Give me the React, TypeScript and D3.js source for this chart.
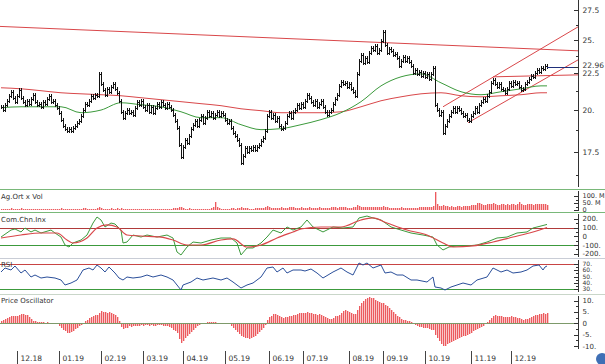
import { useEffect, useRef } from "react";
import * as d3 from "d3";

// daily closes (log price panel)
const closes = [
  20.2, 20.0, 20.3, 20.6, 20.9, 21.2, 20.8, 20.5, 20.9, 21.3,
  20.8, 20.5, 20.3, 20.6, 20.4, 20.7, 21.0, 20.5, 20.3, 20.4,
  20.2, 20.5, 20.4, 20.7, 20.9, 20.5, 20.6, 20.3, 20.1, 19.8,
  19.4, 19.0, 18.8, 18.7, 18.8, 18.7, 18.9, 19.0, 19.2, 19.3,
  19.6, 20.0, 20.4, 20.3, 20.6, 20.9, 20.8, 21.0, 20.9, 22.4,
  21.7, 21.3, 21.0, 21.4, 21.2, 21.5, 21.7, 21.4, 21.1, 20.6,
  19.9, 19.5, 19.8, 20.0, 19.8, 19.9, 19.7, 20.1, 20.5, 20.3,
  20.6, 20.2, 20.0, 20.3, 19.9, 20.2, 19.8, 20.1, 20.4, 20.2,
  20.5, 20.3, 20.1, 20.4, 20.2, 20.0, 19.7, 19.3, 18.9, 17.9,
  17.2, 17.8, 18.2, 18.0, 18.4, 18.8, 19.1, 19.3, 19.0, 19.4,
  19.6, 19.2, 19.5, 19.9, 19.6, 19.8, 19.5, 19.7, 19.9, 19.6,
  19.8, 19.7, 19.4, 19.2, 19.3, 18.9, 18.6, 18.4, 18.2, 17.9,
  16.9, 17.3, 17.7, 17.5, 17.7, 17.6, 17.8, 17.6, 17.8, 17.9,
  18.1, 18.3, 18.7, 19.6, 19.9, 19.5, 19.7, 19.3, 19.5, 19.0,
  18.8, 18.9, 19.2, 19.6, 19.8, 19.5, 19.9, 20.0, 20.3, 20.1,
  20.4, 20.2, 20.6, 21.0, 20.8, 20.5, 20.3, 20.6, 20.2, 20.4,
  20.6, 20.2, 19.9, 19.7, 19.9, 20.0, 20.4, 20.7, 21.0, 21.6,
  21.9, 21.7, 21.8, 21.5, 21.7, 21.4, 21.2, 20.9, 22.4, 23.4,
  23.8, 23.2, 23.6, 23.3, 24.0, 24.4, 24.2, 24.5, 24.0, 24.2,
  24.9, 25.6, 24.6, 24.0, 24.3, 24.1, 23.8, 23.9, 23.6, 23.0,
  23.4, 23.7, 23.4, 23.6, 23.3, 23.0, 22.5, 22.7, 22.4, 22.6,
  22.3, 22.5, 22.2, 22.4, 22.1, 22.4, 22.9, 20.3, 20.0, 19.7,
  19.9, 18.6, 19.0, 19.3, 19.6, 19.9, 20.1, 19.9, 20.1, 20.0,
  19.8, 19.6, 19.7, 19.4, 19.3, 19.6, 19.8, 20.1, 19.9, 20.3,
  20.5, 20.7, 20.6, 20.9, 21.2, 21.8, 22.0, 21.7, 21.5, 21.7,
  21.4, 21.3, 21.1, 21.4, 21.8, 21.6, 21.9, 21.7, 21.8, 21.5,
  21.3, 21.4, 21.7, 21.9, 22.1, 22.3, 22.2, 22.5, 22.7, 22.6,
  22.9, 22.8, 23.0, 22.96,
];

// moving averages, sampled every 10 sessions
const maDays = [0, 10, 20, 30, 40, 50, 60, 70, 80, 90, 100, 110, 120, 130, 140, 150, 160, 170, 180, 190, 200, 210, 220, 230, 240, 250, 260, 270, 273];
const maFast = [20.15, 20.21, 20.21, 20.21, 19.83, 20.0, 20.47, 20.34, 20.21, 19.89, 19.52, 19.52, 19.09, 18.79, 18.85, 19.09, 19.4, 19.83, 20.54, 21.6, 22.23, 22.44, 21.81, 21.2, 21.0, 21.2, 21.4, 21.6, 21.6];
const maSlow = [21.47, 21.4, 21.27, 21.13, 21.06, 21.0, 20.93, 20.8, 20.67, 20.54, 20.41, 20.28, 20.08, 19.96, 19.83, 19.83, 19.83, 19.89, 20.21, 20.6, 20.86, 21.06, 21.13, 20.93, 20.86, 20.93, 21.0, 21.13, 21.13];

// trend lines: [session, price] start / end
const trendFrom = [[-0.5, 26.1], [221, 20.21], [233.5, 19.21], [246, 22.23]];
const trendTo = [[288.5, 24.15], [288.5, 26.06], [288.5, 23.46], [288.5, 22.37]];

// volume, millions
const volume = [
  8, 6, 9, 7, 10, 12, 8, 6, 7, 9, 11, 8, 7, 6, 9, 8, 10, 7, 6, 8, 9, 7, 8, 6, 10, 9, 7, 8, 6, 9,
  12, 10, 8, 9, 7, 8, 9, 10, 8, 7, 9, 11, 12, 10, 9, 8, 10, 9, 13, 18, 14, 10, 9, 8, 9, 11, 10, 9, 12, 10,
  14, 10, 9, 8, 7, 8, 9, 7, 8, 10, 9, 8, 7, 9, 8, 7, 6, 8, 9, 8, 7, 9, 8, 7, 9, 10, 12, 14, 16, 22,
  18, 12, 10, 9, 11, 10, 9, 8, 10, 9, 8, 10, 9, 8, 9, 12, 18, 58, 20, 12, 10, 9, 8, 9, 10, 11, 12, 10, 13, 16,
  18, 14, 12, 11, 10, 9, 10, 11, 12, 13, 14, 16, 18, 26, 20, 16, 14, 13, 12, 15, 18, 14, 12, 16, 20, 22, 18, 15, 14, 16,
  18, 15, 14, 16, 19, 17, 15, 14, 16, 18, 15, 14, 13, 15, 17, 19, 21, 18, 16, 19, 23, 20, 18, 17, 16, 15, 18, 20, 34, 28,
  24, 22, 20, 18, 21, 23, 19, 18, 20, 22, 24, 26, 20, 18, 16, 15, 17, 14, 13, 16, 18, 15, 14, 13, 15, 17, 16, 14, 15, 18,
  20, 22, 19, 21, 24, 22, 28, 130, 45, 32, 28, 36, 30, 26, 24, 28, 22, 25, 30, 27, 24, 32, 28, 26, 30, 34, 38, 36, 48, 52,
  44, 38, 34, 40, 42, 46, 50, 44, 38, 36, 40, 44, 38, 42, 36, 40, 44, 38, 46, 60, 42, 38, 36, 40, 44, 42, 38, 40, 46, 44,
  42, 40, 44, 38,
];

// commodity channel index + its average
const cciDays = [0, 5, 7, 10, 12, 15, 17, 20, 25, 27, 30, 32, 34, 36, 40, 43, 46, 48, 50, 52, 55, 57, 60, 61, 63, 66, 70, 73, 78, 83, 86, 88, 90, 93, 96, 100, 105, 110, 115, 118, 120, 123, 126, 130, 133, 136, 140, 143, 146, 150, 153, 156, 161, 166, 171, 176, 179, 183, 186, 190, 195, 200, 205, 211, 216, 218, 221, 224, 228, 233, 238, 243, 248, 253, 258, 263, 266, 270, 273];
const cciVals = [-9, 71, 83, 49, 94, 49, 71, 37, 71, 37, -9, -100, -123, -77, -43, 14, 151, 220, 186, 106, 151, 140, 71, -77, -66, 14, -9, 14, -9, 14, -20, -180, -214, -123, -66, -77, -43, -20, -20, -77, -214, -134, -134, -77, -9, 71, 37, 106, 71, 106, 186, 106, 49, 106, 94, 106, 209, 231, 209, 186, 106, 71, 37, 14, -9, -100, -157, -123, -111, -111, -100, -66, -20, -9, 37, 49, 94, 117, 135];
const cciAvgDays = [0, 10, 20, 28, 33, 36, 43, 48, 53, 58, 63, 70, 80, 86, 93, 100, 110, 116, 123, 130, 138, 146, 150, 160, 170, 180, 186, 193, 203, 213, 221, 226, 236, 246, 256, 266, 273];
const cciAvgVals = [-20, 14, 37, 37, -43, -77, -20, 94, 129, 106, 14, 3, -9, -43, -100, -100, -43, -31, -123, -100, -20, 49, 83, 106, 106, 186, 209, 151, 71, 14, -77, -123, -111, -66, -9, 49, 100];

// RSI
const rsiDays = [0, 2, 5, 7, 10, 12, 15, 17, 20, 23, 27, 30, 32, 35, 38, 41, 44, 46, 48, 50, 52, 54, 57, 59, 61, 63, 66, 70, 73, 76, 80, 83, 86, 88, 90, 91, 95, 98, 101, 106, 110, 113, 116, 120, 123, 126, 130, 133, 136, 138, 141, 143, 146, 150, 152, 155, 158, 161, 166, 170, 173, 176, 179, 181, 183, 186, 190, 192, 195, 198, 201, 205, 208, 213, 216, 217, 220, 222, 225, 228, 231, 235, 238, 243, 246, 250, 253, 256, 260, 263, 266, 269, 271, 272, 273];
const rsiVals = [57.2, 63.6, 60.4, 66.8, 55.6, 60.4, 49.2, 52.4, 47.6, 49.2, 47.6, 44.4, 36.4, 39.6, 44.4, 60.4, 63.6, 60.4, 68.4, 63.6, 57.2, 65.2, 55.6, 47.6, 44.4, 49.2, 47.6, 49.2, 52.4, 49.2, 52.4, 49.2, 44.4, 36.4, 28.4, 36.4, 41.2, 47.6, 44.4, 47.6, 44.4, 47.6, 41.2, 31.6, 36.4, 39.6, 49.2, 63.6, 65.2, 57.2, 63.6, 55.6, 60.4, 60.4, 58.8, 62, 55.6, 47.6, 57.2, 63.6, 57.2, 52.4, 71.6, 68.4, 71.6, 63.6, 68.4, 55.6, 57.2, 52.4, 52.4, 44.4, 44.4, 41.2, 49.2, 33.2, 31.6, 28.4, 33.2, 36.4, 39.6, 36.4, 44.4, 49.2, 63.6, 57.2, 60.4, 55.6, 57.2, 60.4, 66.8, 68.4, 60.4, 65.2, 66.8];

// price oscillator, percent
const oscillator = [
  1.0, 1.3, 1.8, 2.3, 2.8, 3.0, 3.2, 3.4, 3.3, 3.6, 4.0, 4.1, 3.8, 3.5, 2.6, 1.8, 1.2,
  0.8, 0.6, 0.5, 0.4, 0.5, 0.3, 0.4, 0.3, 0.2, 0.1, 0.0, -0.3,
  -1.2, -2.0, -2.8, -3.5, -4.2, -4.4, -4.0, -3.3, -2.6, -2.0, -1.4, -0.8, -0.2,
  0.8, 1.5, 2.3, 2.9, 3.2, 3.5, 3.6, 4.4, 5.3, 5.1, 4.9, 4.6, 4.8, 4.3, 4.0, 3.5, 2.8, 1.2,
  -1.5, -2.4, -2.2, -1.9, -1.3, -1.5, -1.2, -1.0, -1.4, -1.1, -0.9,
  -1.0, -0.7, -0.9, -1.2, -0.8, -1.0, -1.3, -0.9, -0.6, -0.8, -1.0, -1.2,
  -1.4, -1.8, -2.2, -2.8, -3.3, -4.5, -7.0, -8.8, -7.9, -6.5, -5.5, -4.6, -3.8, -3.0, -2.2,
  -1.4, -0.8, -0.4, -0.2, 0.2, 0.5, 0.6, 0.4, 0.7, 0.5, 0.2, 0.1, -0.1, 0.2, 0.0, -0.2, -0.5,
  -1.3, -2.2, -3.0, -3.8, -4.6, -5.5, -6.0, -6.3, -6.6, -6.8, -6.5, -6.0, -5.4, -4.7, -3.9, -3.0, -2.0, -0.8,
  1.5, 2.6, 3.4, 3.9, 4.2, 3.8, 3.3, 2.9, 2.4, 2.6, 2.9, 3.1, 3.4, 3.5, 3.8, 4.1, 4.3,
  4.5, 4.4, 4.6, 4.8, 4.5, 4.3, 4.2, 4.0, 3.8, 3.9, 3.6, 3.4, 2.8, 2.2, 1.8, 1.9, 2.4, 3.0, 3.3, 3.6,
  4.6, 5.3, 5.7, 5.5, 5.0, 4.4, 4.0, 3.9, 6.0, 7.8, 8.8, 9.6, 10.8, 11.3, 11.5, 11.2, 11.0,
  10.3, 10.0, 9.5, 9.0, 8.8, 8.0, 7.4, 6.8, 6.0, 5.0, 4.2, 3.4, 2.6, 2.0, 1.6, 1.4, 1.2, 0.9, 0.5,
  -0.3, -0.8, -1.2, -1.5, -1.7, -1.9, -2.0, -2.3, -2.6, -2.8, -3.0,
  -5.0, -6.5, -8.0, -9.3, -10.2, -9.8, -9.2, -8.6, -8.1, -7.6, -7.3, -7.0, -6.6,
  -6.2, -5.8, -5.4, -5.0, -4.6, -4.1, -3.6, -3.0, -2.5, -2.0, -1.5, -1.0, -0.4,
  0.6, 1.5, 2.5, 3.4, 3.5, 3.3, 3.2, 3.0, 2.8, 2.6, 2.7, 2.9, 3.0, 2.8, 2.6, 2.5, 2.2,
  1.8, 1.6, 1.7, 2.0, 2.4, 2.9, 3.2, 3.5, 3.8, 3.9, 4.1, 4.3, 4.2, 4.4,
];

const monthDays = [8, 29, 50, 71, 91, 112, 134, 151, 174, 191, 212, 235, 255];
const monthLabels = ["12.18", "01.19", "02.19", "03.19", "04.19", "05.19", "06.19", "07.19", "08.19", "09.19", "10.19", "11.19", "12.19"];

const priceTicks = [17.5, 20, 22.5, 25, 27.5];
const priceMinor = [16.25, 18.75, 21.25, 23.75, 26.25];
const volTicks = [0, 50, 100];
const volMinor = [25, 75];
const cciTicks = [-200, -100, 0, 100, 200];
const cciMinor = [-150, -50, 50, 150];
const rsiTicks = [30, 40, 50, 60, 70];
const rsiMinor = [35, 45, 55, 65];
const oscTicks = [-10, -5, 0, 5, 10];
const oscMinor = [-7.5, -2.5, 2.5, 7.5];

const W = 605;
const H = 364;
const AX = 578.5;
const FONT = "DejaVu Sans, Verdana, sans-serif";
const RED = "#d9474a";
const GREEN = "#3c9a3c";
const BAR_RED = "#ec5a5e";
const BAR_PINK = "#f9c6c7";

const fmt = (v: number) => (v === 0 ? "0" : Number.isInteger(v) ? `${v}.` : `${v}`);

const drawChart = (el: SVGSVGElement) => {
  const svg = d3.select(el);
  svg.selectAll("*").remove();
  const n = closes.length;

  const x = d3.scaleLinear().domain([0, n - 1]).range([1, 547]);
  const yP = d3.scaleLog().domain([17.5, 27.5]).range([152, 10]);
  const yV = d3.scaleLinear().domain([0, 100]).range([210, 196]);
  const yC = d3.scaleLinear().domain([-200, 200]).range([253.75, 218.75]);
  const yR = d3.scaleLinear().domain([30, 70]).range([289, 264]);
  const yO = d3.scaleLinear().domain([-10, 10]).range([346, 300.5]);

  svg.append("rect").attr("width", W).attr("height", H).attr("fill", "white");

  const defs = svg.append("defs");
  const clip = (id: string, y0: number, y1: number) =>
    defs.append("clipPath").attr("id", id).append("rect")
      .attr("x", 0).attr("y", y0).attr("width", AX).attr("height", y1 - y0);
  clip("c-main", 0, 187);
  clip("c-cci", 213, 258);
  clip("c-rsi", 259, 293);
  clip("c-osc", 295, 349);

  // ---- main price panel
  const main = svg.append("g").attr("clip-path", "url(#c-main)");

  trendFrom.forEach((f, k) => {
    const t = trendTo[k];
    main.append("line")
      .attr("x1", x(f[0])).attr("y1", yP(f[1]))
      .attr("x2", x(t[0])).attr("y2", yP(t[1]))
      .attr("stroke", RED).attr("stroke-width", 1);
  });

  const maLine = (vals: number[]) =>
    d3.line<number>().x((_, i) => x(maDays[i])).y((d) => yP(d)).curve(d3.curveMonotoneX)(vals);
  main.append("path").attr("d", maLine(maSlow)).attr("fill", "none").attr("stroke", RED).attr("stroke-width", 1);
  main.append("path").attr("d", maLine(maFast)).attr("fill", "none").attr("stroke", GREEN).attr("stroke-width", 1);

  closes.forEach((c, i) => {
    const o = i > 0 ? closes[i - 1] : c;
    const top = Math.min(yP(o), yP(c)) - 2;
    const bot = Math.max(yP(o), yP(c)) + 2;
    const bx = Math.round(x(i)) + 0.5;
    main.append("line").attr("x1", bx).attr("x2", bx).attr("y1", top).attr("y2", bot)
      .attr("stroke", "#111").attr("stroke-width", 1).attr("shape-rendering", "crispEdges");
    main.append("line").attr("x1", bx).attr("x2", bx + 1.5)
      .attr("y1", Math.round(yP(c)) + 0.5).attr("y2", Math.round(yP(c)) + 0.5)
      .attr("stroke", "#111").attr("stroke-width", 1).attr("shape-rendering", "crispEdges");
  });

  const last = closes[n - 1];
  main.append("line")
    .attr("x1", x(n - 1)).attr("x2", AX)
    .attr("y1", Math.round(yP(last)) + 0.5).attr("y2", Math.round(yP(last)) + 0.5)
    .attr("stroke", "#1f2f7a").attr("stroke-width", 1);

  // histogram helper: light 2px column with a darker 1px stroke
  const hbar = (g: any, i: number, y0: number, y1: number) => {
    const bx = Math.round(x(i));
    const top = Math.min(y0, y1);
    const h = Math.max(1, Math.abs(y1 - y0));
    g.append("rect").attr("x", bx).attr("y", top).attr("width", 2).attr("height", h)
      .attr("fill", BAR_PINK).attr("shape-rendering", "crispEdges");
    g.append("rect").attr("x", bx).attr("y", top).attr("width", 1).attr("height", h)
      .attr("fill", BAR_RED).attr("shape-rendering", "crispEdges");
  };

  // ---- volume
  const vol = svg.append("g");
  volume.forEach((v, i) => hbar(vol, i, yV(0), Math.min(yV(0) - 1, yV(v))));

  // ---- CCI
  const cci = svg.append("g").attr("clip-path", "url(#c-cci)");
  const level = (g: any, y: number, color: string) =>
    g.append("line").attr("x1", 0).attr("x2", AX).attr("y1", y).attr("y2", y)
      .attr("stroke", color).attr("stroke-width", 1).attr("shape-rendering", "crispEdges");
  level(cci, Math.round(yC(100)) + 0.5, "#b03a3a");
  level(cci, Math.round(yC(-100)) + 0.5, GREEN);
  const sparse = (days: number[], y: (v: number) => number) =>
    d3.line<number>().x((_, i) => x(days[i])).y((d) => y(d));
  cci.append("path").attr("d", sparse(cciDays, yC)(cciVals)).attr("fill", "none").attr("stroke", GREEN).attr("stroke-width", 1);
  cci.append("path").attr("d", sparse(cciAvgDays, yC).curve(d3.curveMonotoneX)(cciAvgVals)).attr("fill", "none").attr("stroke", RED).attr("stroke-width", 1.2);

  // ---- RSI
  const rsi = svg.append("g").attr("clip-path", "url(#c-rsi)");
  level(rsi, Math.round(yR(70)) + 0.5, "#c84444");
  level(rsi, Math.round(yR(30)) + 0.5, GREEN);
  rsi.append("path").attr("d", sparse(rsiDays, yR)(rsiVals)).attr("fill", "none").attr("stroke", "#2b4f9a").attr("stroke-width", 1);

  // ---- price oscillator
  const osc = svg.append("g").attr("clip-path", "url(#c-osc)");
  oscillator.forEach((v, i) => hbar(osc, i, yO(0), yO(v)));
  level(osc, Math.round(yO(0)) + 0.5, "#7d9a6a");

  // ---- right axes
  const axis = (y0: number, y1: number, scale: (v: number) => number, major: number[], minor: number[], label: (v: number) => string, size: number) => {
    const g = svg.append("g").attr("stroke", "#333").attr("shape-rendering", "crispEdges");
    g.append("line").attr("x1", AX).attr("x2", AX).attr("y1", y0).attr("y2", y1);
    major.forEach((v) => {
      const ty = Math.round(scale(v)) + 0.5;
      g.append("line").attr("x1", AX - 5).attr("x2", AX).attr("y1", ty).attr("y2", ty);
    });
    minor.forEach((v) => {
      const ty = Math.round(scale(v)) + 0.5;
      g.append("line").attr("x1", AX - 3).attr("x2", AX).attr("y1", ty).attr("y2", ty);
    });
    svg.append("g").selectAll("text").data(major).join("text")
      .attr("x", AX + 4).attr("y", (d) => scale(d) + size * 0.36)
      .attr("font-family", FONT).attr("font-size", size).attr("fill", "#333")
      .text(label);
  };
  axis(0, 187, yP, priceTicks, priceMinor, fmt, 7.5);
  axis(191, 211, yV, volTicks, volMinor, (v) => (v === 0 ? "0" : `${v}. M`), 6.5);
  axis(214, 257, yC, cciTicks, cciMinor, fmt, 7);
  axis(260, 292, yR, rsiTicks, rsiMinor, fmt, 6);
  axis(296, 349, yO, oscTicks, oscMinor, fmt, 7);

  // last price marker
  svg.append("line").attr("x1", AX - 5).attr("x2", AX)
    .attr("y1", Math.round(yP(last)) + 0.5).attr("y2", Math.round(yP(last)) + 0.5)
    .attr("stroke", "#333").attr("shape-rendering", "crispEdges");
  svg.append("text").attr("x", AX + 4).attr("y", yP(last) + 1.5)
    .attr("font-family", FONT).attr("font-size", 7.5).attr("fill", "#333").text(last.toFixed(2));

  // ---- separators
  const sep = (y: number, color: string) =>
    svg.append("line").attr("x1", 0).attr("x2", W).attr("y1", y).attr("y2", y)
      .attr("stroke", color).attr("stroke-width", 1).attr("shape-rendering", "crispEdges");
  sep(189.5, "#79b879");
  sep(212.5, "#79b879");
  sep(258.5, "#c9cdd6");
  sep(294.5, "#c9d6c9");

  // ---- panel titles
  const titles: [string, number][] = [["Ag.Ort x Vol", 199], ["Com.Chn.Inx", 222], ["RSI", 267], ["Price Oscillator", 303]];
  svg.append("g").selectAll("text").data(titles).join("text")
    .attr("x", 1).attr("y", (d) => d[1])
    .attr("font-family", FONT).attr("font-size", 7).attr("fill", "#333")
    .text((d) => d[0]);

  // ---- date axis
  monthDays.forEach((d, k) => {
    const tx = Math.round(x(d)) + 0.5;
    svg.append("line").attr("x1", tx).attr("x2", tx).attr("y1", 351).attr("y2", 364)
      .attr("stroke", "#444").attr("shape-rendering", "crispEdges");
    svg.append("text").attr("x", tx + 3).attr("y", 361)
      .attr("font-family", FONT).attr("font-size", 7.5).attr("fill", "#333")
      .text(monthLabels[k]);
  });

  svg.append("circle").attr("cx", 602).attr("cy", 359).attr("r", 6).attr("fill", "#3f6fb5");
};

export default function App() {
  const ref = useRef<SVGSVGElement>(null);

  useEffect(() => {
    if (ref.current) drawChart(ref.current);
  }, []);

  return (
    <div style={{ position: "absolute", left: 0, top: 0 }}>
      <svg ref={ref} width={W} height={H} style={{ display: "block" }} />
    </div>
  );
}
